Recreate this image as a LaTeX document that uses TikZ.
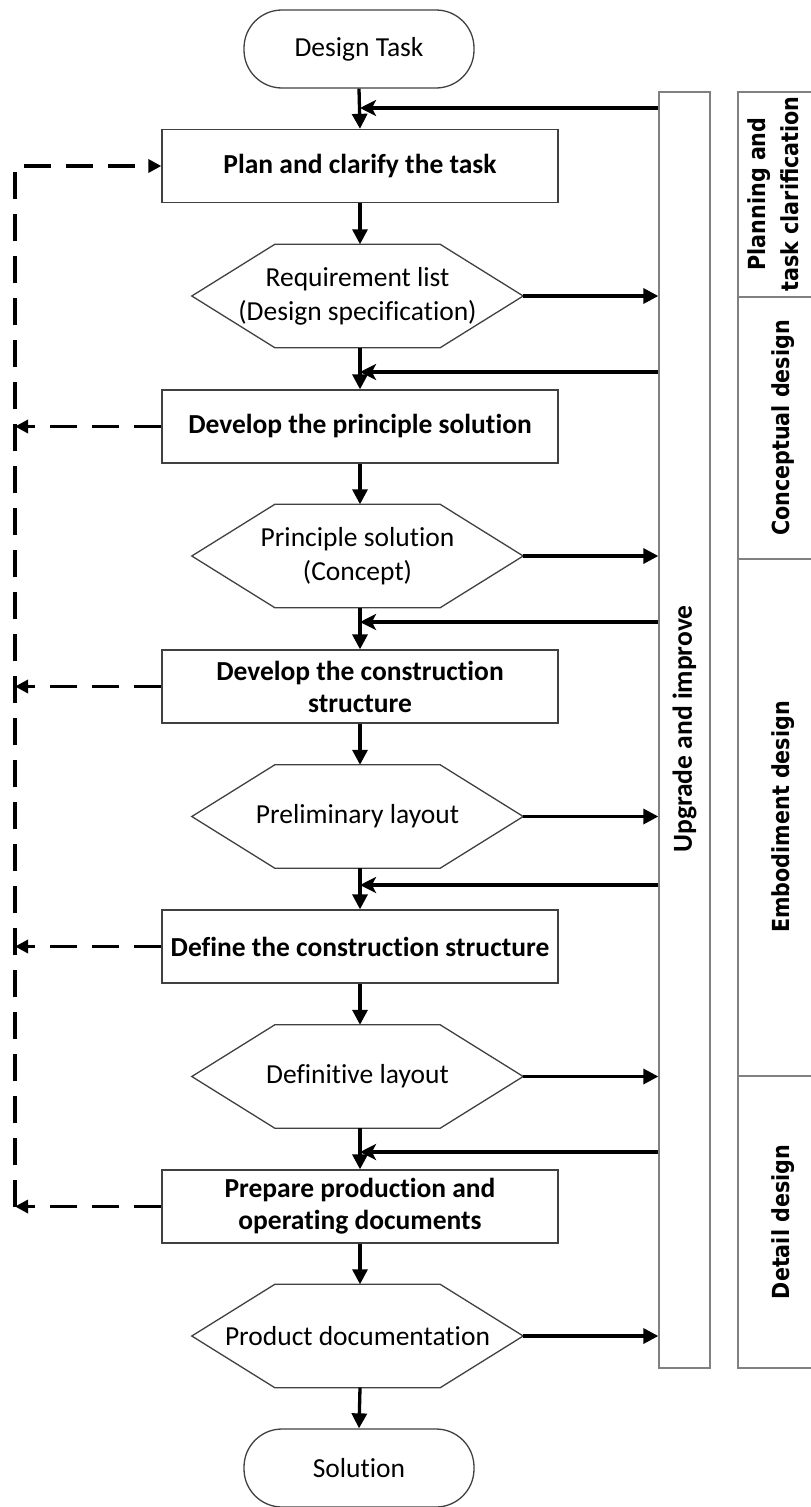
\documentclass[tikz,border=0pt]{standalone}
\usepackage{fontspec}
\setmainfont{Carlito}[Ligatures={NoCommon}]
\newfontfamily\sidefont{DejaVu Sans}[FakeStretch=0.88]
\usetikzlibrary{arrows.meta,calc}
\definecolor{boxgray}{HTML}{404040}
\definecolor{bargray}{HTML}{808080}
% hexagonal outline around a named (invisible) node
\newcommand\hexoutline[1]{%
  \draw[draw=boxgray,line width=1.3pt] (#1.west) -- ([xshift=83pt]#1.north west)
    -- ([xshift=-83pt]#1.north east) -- (#1.east) -- ([xshift=-83pt]#1.south east)
    -- ([xshift=83pt]#1.south west) -- cycle;}
\begin{document}
\begin{tikzpicture}[x=1pt,y=-1pt,
  txt/.style={font=\fontsize{27.5}{34}\selectfont, align=center},
  procbox/.style={draw=boxgray, line width=1.3pt, minimum width=396pt, minimum height=73pt,
    inner sep=0pt, align=center, font=\fontsize{27.5}{32}\selectfont\bfseries},
  terminal/.style={draw=boxgray, line width=1.3pt, rounded corners=38pt, minimum width=230pt,
    minimum height=78pt, inner sep=0pt, txt},
  hexbox/.style={minimum width=331pt, minimum height=103pt, inner sep=0pt, txt},
  flowarrow/.style={line width=3.3pt, -{Triangle[length=15pt,width=15pt]}},
  feedarrow/.style={line width=3.3pt, -{Stealth[length=16pt,width=16pt,inset=4pt]}},
  dashline/.style={line width=3.3pt, dash pattern=on 27pt off 15pt},
  dasharrow/.style={dashline, -{Triangle[length=13pt,width=13pt]}},
  phase/.style={rotate=90, font=\sidefont\bfseries\fontsize{23.5}{33}\selectfont, align=center},
]
\useasboundingbox (0,0) rectangle (811,1507);

% main chain
\node[terminal] (start) at (359,49) {Design Task};
\node[procbox] (plan) at (360,166) {Plan and clarify the task};
\node[hexbox] (req) at (357.5,296) {Requirement list\\(Design specification)};
\node[procbox] (princ) at (360,426.5) {Develop the principle solution};
\node[hexbox] (concept) at (357.5,556) {Principle solution\\(Concept)};
\node[procbox] (devcon) at (360,686.5) {Develop the construction\\structure};
\node[hexbox] (prelim) at (357.5,816.5) {Preliminary layout};
\node[procbox] (defcon) at (360,946.5) {Define the construction structure};
\node[hexbox] (defin) at (357.5,1076.5) {Definitive layout};
\node[procbox] (prep) at (360,1206.5) {Prepare production and\\operating documents};
\node[hexbox] (docu) at (357.5,1336) {Product documentation};
\node[terminal] (sol) at (359,1468) {Solution};
\hexoutline{req}
\hexoutline{concept}
\hexoutline{prelim}
\hexoutline{defin}
\hexoutline{docu}

% upgrade bar
\node[draw=bargray, line width=1.3pt, minimum width=51pt, minimum height=1276pt, inner sep=0pt] (bar) at (684.5,730) {};
\node[rotate=90, font=\fontsize{27.5}{34}\selectfont\bfseries] (barlabel) at (684.5,729) {Upgrade and improve};

% phase column
\draw[bargray, line width=1.3pt] (738,92) rectangle (850,1368);
\draw[bargray, line width=1.3pt] (738,297) -- (850,297);
\draw[bargray, line width=1.3pt] (738,559) -- (850,559);
\draw[bargray, line width=1.3pt] (738,1076) -- (850,1076);
\node[phase] (ph1) at (773.5,194) {Planning and\\task clarification};
\node[phase] (ph2) at (783,428) {Conceptual design};
\node[phase] (ph3) at (783,817) {Embodiment design};
\node[phase] (ph4) at (783,1222) {Detail design};

% downward flow
\draw[flowarrow] (start.south) -- (plan.north);
\draw[flowarrow] (plan.south) -- (req.north -| plan.south);
\draw[flowarrow] (req.south -| plan.south) -- (princ.north);
\draw[flowarrow] (princ.south) -- (concept.north -| princ.south);
\draw[flowarrow] (concept.south -| princ.south) -- (devcon.north);
\draw[flowarrow] (devcon.south) -- (prelim.north -| devcon.south);
\draw[flowarrow] (prelim.south -| devcon.south) -- (defcon.north);
\draw[flowarrow] (defcon.south) -- (defin.north -| defcon.south);
\draw[flowarrow] (defin.south -| defcon.south) -- (prep.north);
\draw[flowarrow] (prep.south) -- (docu.north -| prep.south);
\draw[flowarrow] (docu.south -| prep.south) -- (sol.north);

% results into the bar
\foreach \h in {req,concept,prelim,defin,docu}
  \draw[flowarrow] (\h.east) -- (\h.east -| bar.west);

% feedback from the bar
\coordinate (fb1) at (360,108);
\coordinate (fb2) at (360,372);
\coordinate (fb3) at (360,622);
\coordinate (fb4) at (360,885);
\coordinate (fb5) at (360,1152);
\foreach \f in {fb1,fb2,fb3,fb4,fb5}
  \draw[feedarrow] (\f -| bar.west) -- (\f);

% dashed return path
\coordinate (dtop) at (15,166);
\coordinate (dbot) at (15,1207);
\draw[dasharrow] (dbot) -- (dtop) -- (plan.west);
\foreach \b in {princ,devcon,defcon,prep}
  \draw[dasharrow] (\b.west) -- (\b.west -| dtop);
\end{tikzpicture}
\end{document}
